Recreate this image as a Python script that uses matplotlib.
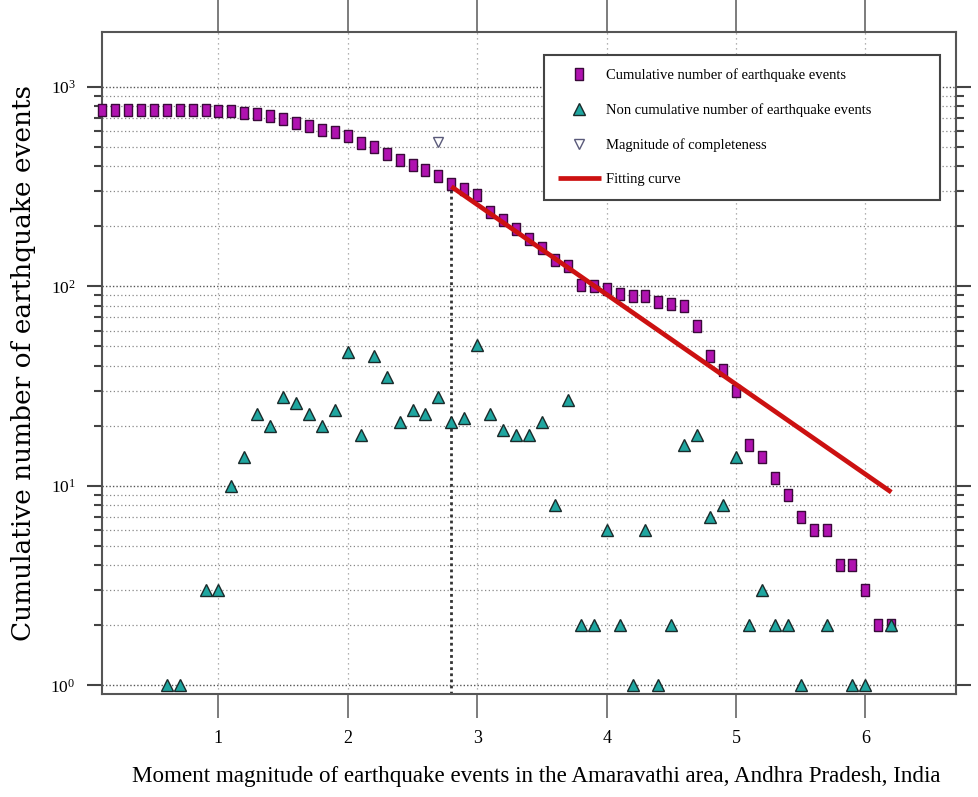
import matplotlib
matplotlib.use('Agg')
import matplotlib.pyplot as plt
import numpy as np

# cumulative number of events (magnitude bins of 0.1)
mag_cum = [0.1, 0.2, 0.3, 0.4, 0.5, 0.6, 0.7, 0.8, 0.9, 1.0,
           1.1, 1.2, 1.3, 1.4, 1.5, 1.6, 1.7, 1.8, 1.9, 2.0,
           2.1, 2.2, 2.3, 2.4, 2.5, 2.6, 2.7, 2.8, 2.9, 3.0,
           3.1, 3.2, 3.3, 3.4, 3.5, 3.6, 3.7, 3.8, 3.9, 4.0,
           4.1, 4.2, 4.3, 4.4, 4.5, 4.6, 4.7, 4.8, 4.9, 5.0,
           5.1, 5.2, 5.3, 5.4, 5.5, 5.6, 5.7, 5.8, 5.9, 6.0,
           6.1, 6.2]
n_cum = [761, 761, 761, 761, 761, 761, 761, 761, 761, 753,
         753, 741, 733, 710, 689, 658, 634, 610, 591, 569,
         523, 501, 461, 428, 404, 382, 356, 327, 308, 288,
         236, 214, 194, 172, 155, 135, 126, 101, 100, 97,
         92, 89, 89, 83, 82, 80, 63, 45, 38, 30,
         16, 14, 11, 9, 7, 6, 6, 4, 4, 3,
         2, 2]

# non cumulative number of events (zero bins left out)
mag_non = [0.6, 0.7, 0.9, 1.0, 1.1, 1.2, 1.3, 1.4, 1.5, 1.6,
           1.7, 1.8, 1.9, 2.0, 2.1, 2.2, 2.3, 2.4, 2.5, 2.6,
           2.7, 2.8, 2.9, 3.0, 3.1, 3.2, 3.3, 3.4, 3.5, 3.6,
           3.7, 3.8, 3.9, 4.0, 4.1, 4.2, 4.3, 4.4, 4.5, 4.6,
           4.7, 4.8, 4.9, 5.0, 5.1, 5.2, 5.3, 5.4, 5.5, 5.7,
           5.9, 6.0, 6.2]
n_non = [1, 1, 3, 3, 10, 14, 23, 20, 28, 26,
         23, 20, 24, 47, 18, 45, 35, 21, 24, 23,
         28, 21, 22, 51, 23, 19, 18, 18, 21, 8,
         27, 2, 2, 6, 2, 1, 6, 1, 2, 16,
         18, 7, 8, 14, 2, 3, 2, 2, 1, 2,
         1, 1, 2]

# magnitude of completeness marker
mc_mag = [2.7]
mc_n = [531]
mc_line = 2.8

# fitting curve end points
fit_mag = [2.8, 6.2]
fit_n = [316, 9.3]

x_ticks = [1, 2, 3, 4, 5, 6]

plt.rcParams['font.family'] = ['Liberation Serif', 'DejaVu Serif']
plt.rcParams['mathtext.fontset'] = 'custom'
plt.rcParams['mathtext.rm'] = 'Liberation Serif'

fig = plt.figure(figsize=(9.79, 7.97), dpi=100)
ax = fig.add_axes([0.1042, 0.1292, 0.8723, 0.8306])

ax.set_yscale('log')
ax.set_xlim(0.1, 6.7)
ax.set_ylim(0.906, 1880)

# grid
ax.grid(True, which='major', axis='y', linestyle=(0, (1, 1.5)), color='#555555', linewidth=1.0)
ax.grid(True, which='minor', axis='y', linestyle=(0, (1, 2)), color='#888888', linewidth=0.9)
ax.grid(True, which='major', axis='x', linestyle=(0, (1, 3)), color='#999999', linewidth=0.9)
ax.set_axisbelow(True)

ax.vlines(mc_line, 0.906, fit_n[0], colors='#333333', linestyles=(0, (1, 1.2)), linewidth=2.0, zorder=1.5)

ax.plot(mag_cum, n_cum, linestyle='none', marker=[(-0.7, -1), (0.7, -1), (0.7, 1), (-0.7, 1), (-0.7, -1)],
        markersize=9.2, markerfacecolor='#B012B0', markeredgecolor='#3A0A3A', markeredgewidth=1.0,
        clip_on=False, zorder=3, label='Cumulative number of earthquake events')
ax.plot(mag_non, n_non, linestyle='none', marker='^', markersize=9.0,
        markerfacecolor='#1FA6A0', markeredgecolor='#1A2A2A', markeredgewidth=1.0,
        clip_on=False, zorder=4, label='Non cumulative number of earthquake events')
ax.plot(mc_mag, mc_n, linestyle='none', marker='v', markersize=6.5,
        markerfacecolor='white', markeredgecolor='#5A5A7A', markeredgewidth=1.0,
        zorder=4, label='Magnitude of completeness')
ax.plot(fit_mag, fit_n, color='#CC1111', linewidth=3.4, solid_capstyle='butt',
        zorder=3.5, label='Fitting curve')

# ticks
ax.set_xticks(x_ticks)
ax.set_xticklabels([str(t) for t in x_ticks])
ax.tick_params(axis='x', which='major', direction='out', length=17, width=1.2,
               color='#666666', labelsize=13, pad=9, top=False)
ax.tick_params(axis='x', which='minor', bottom=False, top=False)
ax.tick_params(axis='y', which='major', direction='out', length=11, width=1.5,
               color='#444444', labelsize=12.5, pad=8, right=True)
ax.tick_params(axis='y', which='minor', direction='out', length=6, width=1.5,
               color='#444444', right=True)

sec = ax.secondary_xaxis('top')
sec.set_xticks(x_ticks)
sec.tick_params(axis='x', direction='out', length=24, width=1.2, color='#666666', labeltop=False)
sec.tick_params(axis='x', which='minor', top=False)
sec.spines['top'].set_visible(False)

for s in ax.spines.values():
    s.set_color('#555555')
    s.set_linewidth(1.5)

ax.set_xlabel('Moment magnitude of earthquake events in the Amaravathi area, Andhra Pradesh, India',
              fontsize=16.6)
ax.xaxis.set_label_coords(0.509, -0.108)
ax.set_ylabel('Cumulative number of earthquake events', fontsize=19, family='DejaVu Serif')
ax.yaxis.set_label_coords(-0.077, 0.5)

leg = ax.legend(loc='upper left', bbox_to_anchor=(0.518, 0.0, 0.463, 0.966), mode='expand',
                fontsize=10.5, frameon=True, fancybox=False, framealpha=1.0,
                borderpad=0.95, labelspacing=1.45, handlelength=2.9, handletextpad=0.35,
                borderaxespad=0.0)
leg.get_frame().set_edgecolor('#444444')
leg.get_frame().set_linewidth(1.5)
leg.set_zorder(10)

fig.savefig('out.png', dpi=100)
